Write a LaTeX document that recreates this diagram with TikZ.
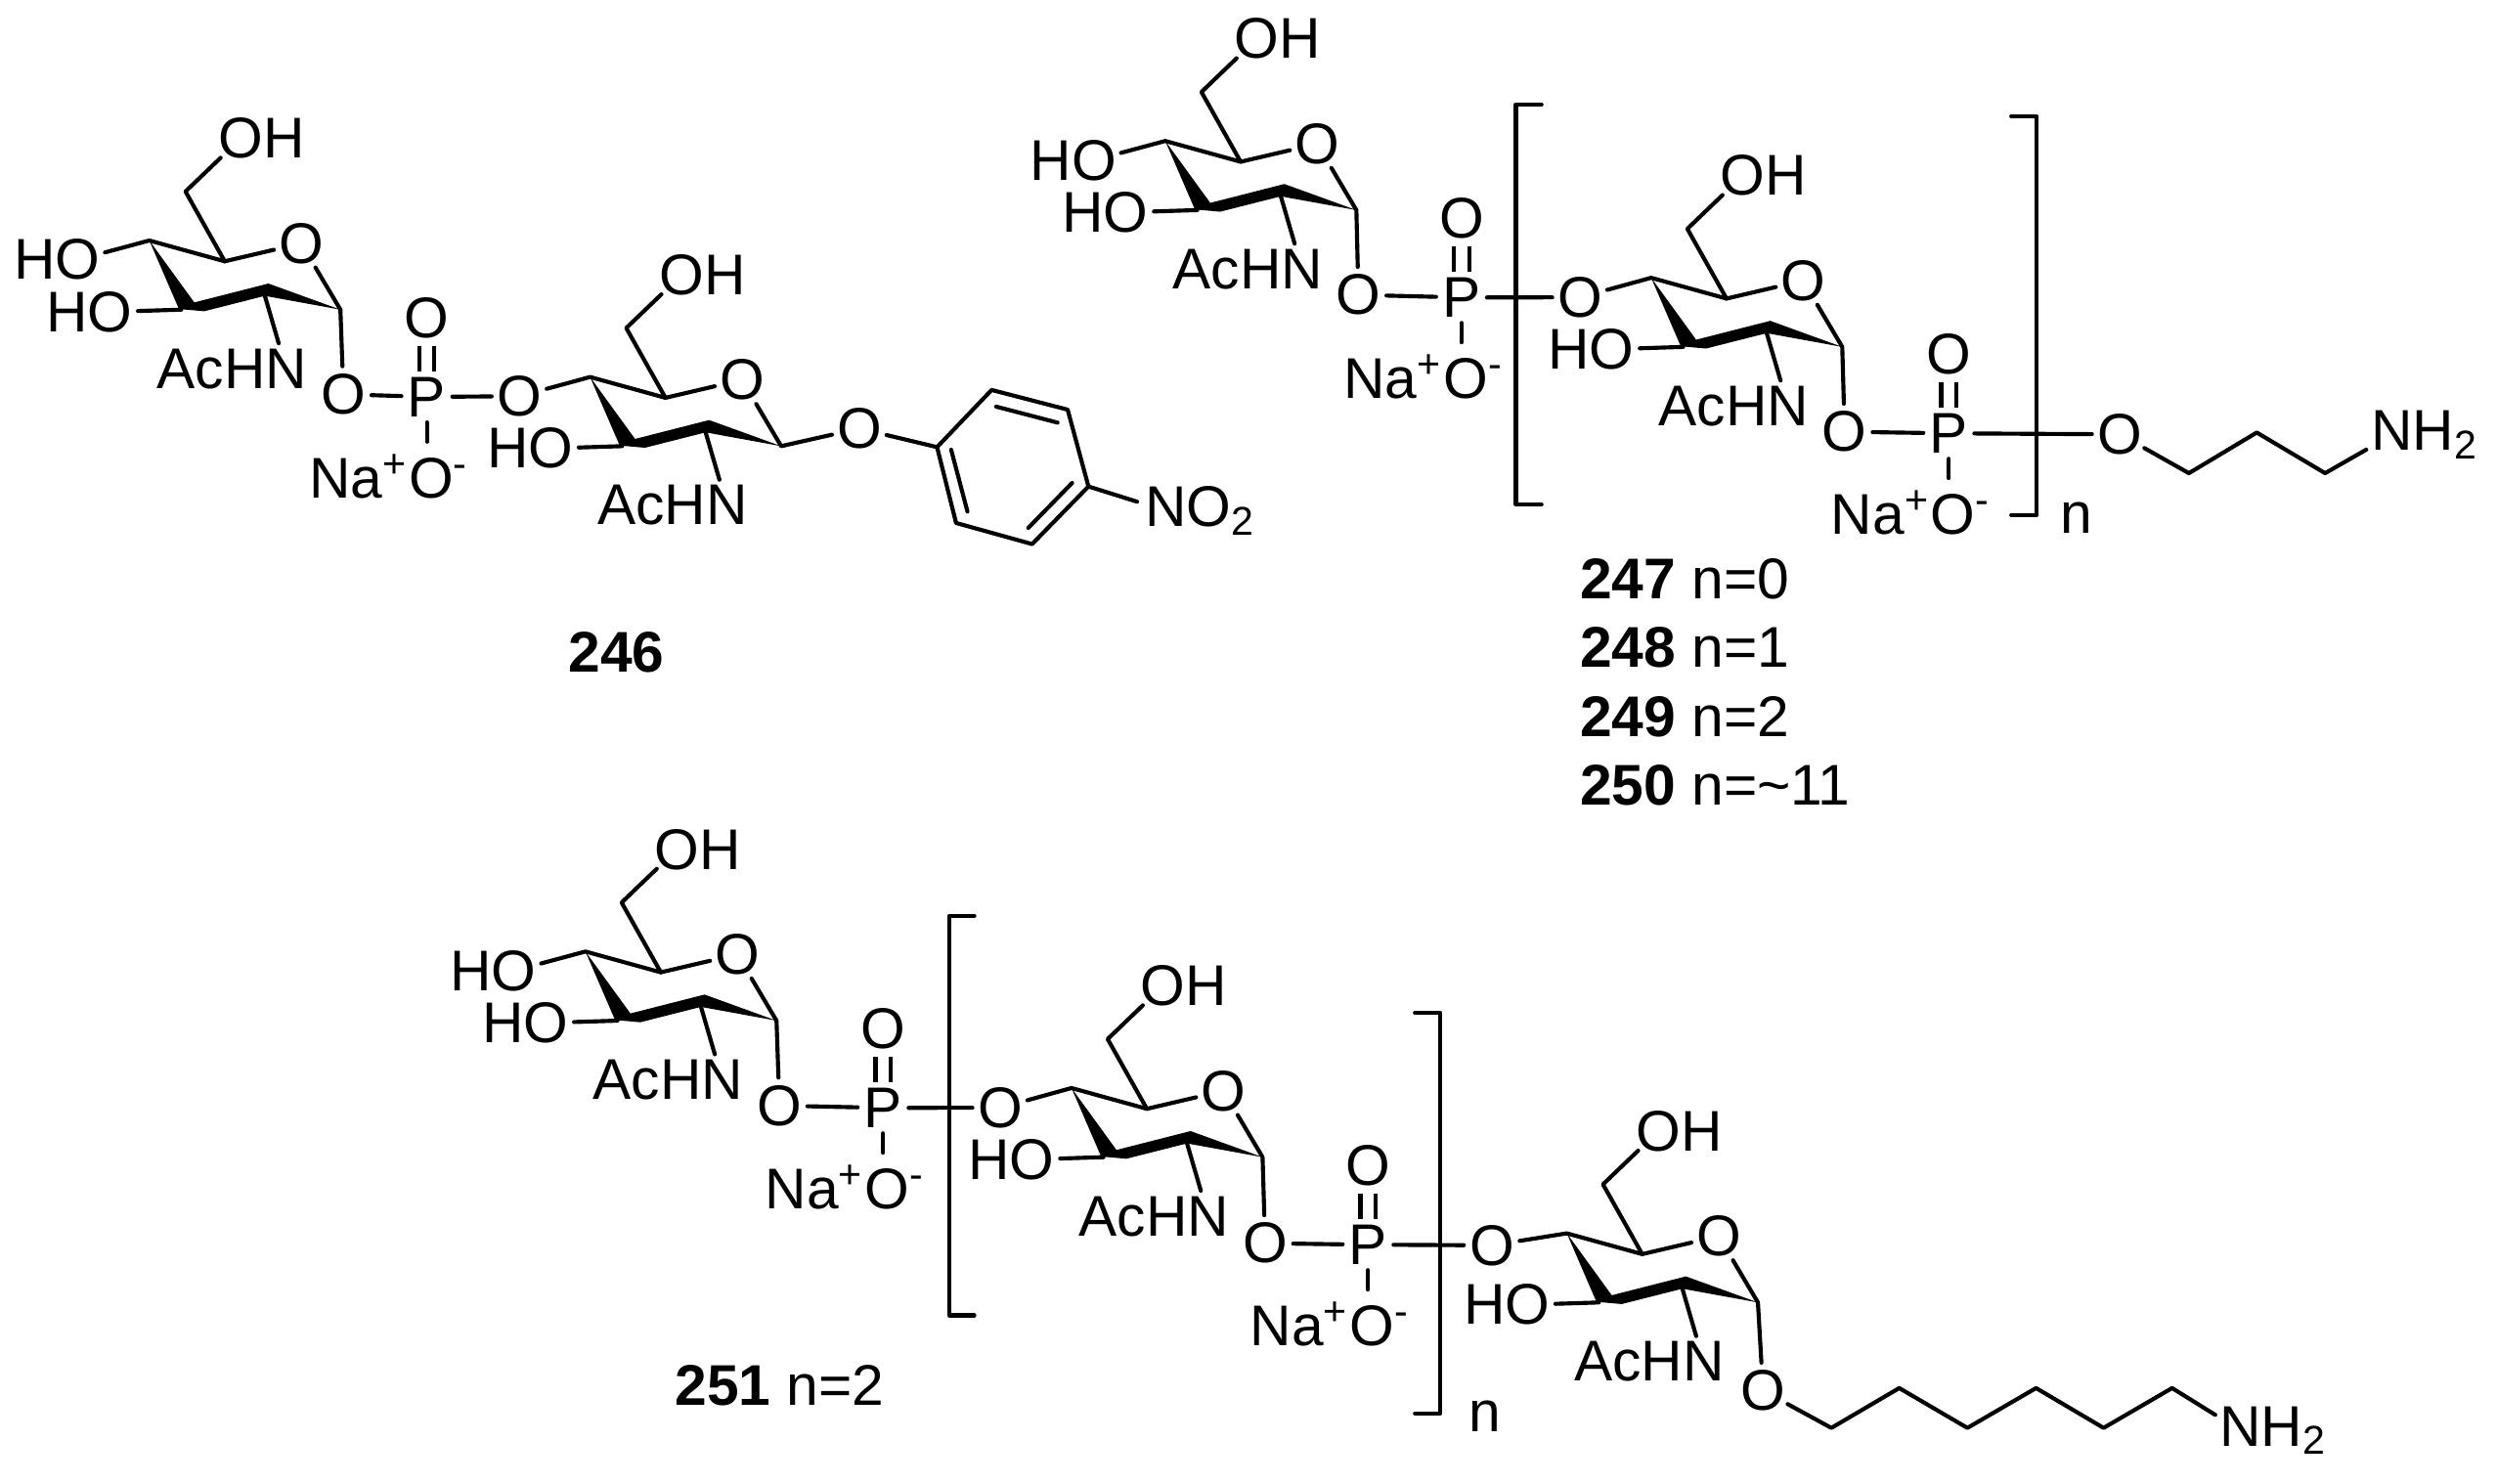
\documentclass[tikz,border=0pt]{standalone}
\usepackage{fontspec}
\setmainfont{Liberation Sans}
\tikzset{
	every node/.style={font=\fontsize{10.2}{12}\selectfont},
	bond/.style={line width=0.72pt,line cap=round,line join=round},
	dbond/.style={bond,line cap=butt,double,double distance=2pt},
	atom/.style={circle,inner sep=-0.4pt},
	label/.style={anchor=base west,inner sep=0pt}
}
\newcommand{\sugar}[6]{%
	\begin{scope}[shift={(#2,#3)},name prefix=#1-]
	\coordinate (c4) at (0,0);
	\coordinate (c5) at (47.1,13);
	\coordinate (c6) at (22.6,-30.6);
	\coordinate (c1) at (119.4,43.2);
	\coordinate (c2) at (72.2,34.6);
	\coordinate (c3) at (20,43.2);
	\node[atom] (oh) at (57.2,-63.8) {O\rlap{H}};
	\node[atom] (or) at (94.9,1.8) {O};
	\node[atom] (ho) at (-24.6,44.6) {\llap{H}O};
	\node[atom] (n) at (85.5,80.2) {\llap{AcH}N};
	\node[atom] (o4) at (#5) {#4};
	\node[atom] (o1) at (#6) {O};
	\fill (c4) -- (18.5,42.8) -- (34.3,44.2) -- (c2) -- (c1) -- (74.4,26.9) -- (28.1,38.7) -- cycle;
	\draw[bond] (o4) -- (c4) -- (c5) -- (or) -- (c1) -- (o1);
	\draw[bond] (c5) -- (c6) -- (oh);
	\draw[bond] (c3) -- (ho);
	\draw[bond] (c2) -- (n);
	\end{scope}%
}
\newcommand{\phos}[3]{%
	\begin{scope}[shift={(#2,#3)},name prefix=#1-]
	\node[atom] (p) at (0,0) {P};
	\node[atom] (od) at (0,-49.5) {O};
	\node[atom] (om) at (2.7,49.6) {\llap{Na\textsuperscript{+}}O\rlap{\textsuperscript{-}}};
	\coordinate (ob) at (0,28);
	\draw[dbond] (p) -- (od);
	\draw[bond] (p) -- (ob);
	\end{scope}%
}
\begin{document}
\begin{tikzpicture}[x=0.01cm,y=-0.01cm]
	\useasboundingbox (0,0) rectangle (1560.2,927.3);

	\sugar{a}{93.3}{150.3}{\llap{H}O}{-44.6,12}{121.3,96.1}
	\phos{pa}{266.7}{248}
	\sugar{b}{368.7}{235.6}{O}{-44,12}{168.2,32.2}
	\draw[bond] (a-o1) -- (pa-p) -- (b-o4);
	\coordinate (r1) at (585.5,279.4);
	\coordinate (r2) at (619.6,243.7);
	\coordinate (r3) at (667.1,256);
	\coordinate (r4) at (680.1,304);
	\coordinate (r5) at (644.9,340);
	\coordinate (r6) at (597.4,326.8);
	\node[atom] (no) at (728.3,319.1) {N\rlap{O\textsubscript{2}}};
	\draw[bond] (b-o1) -- (r1) -- (r2) -- (r3) -- (r4) -- (r5) -- (r6) -- (r1);
	\draw[bond] (r4) -- (no);
	\coordinate (i1) at (622.4,254.1);
	\coordinate (i2) at (660.8,264.1);
	\coordinate (i3) at (669.9,301.8);
	\coordinate (i4) at (642.5,329.9);
	\coordinate (i5) at (604.5,319.7);
	\coordinate (i6) at (594.3,281);
	\draw[bond] (i1) -- (i2);
	\draw[bond] (i3) -- (i4);
	\draw[bond] (i5) -- (i6);
	\node[label,font=\fontsize{10.2}{12}\selectfont\bfseries] (l246) at (354.5,419.8) {246};

	\sugar{c}{728.1}{88.1}{\llap{H}O}{-44.6,12}{120.7,96.2}
	\phos{pc}{913.2}{185.9}
	\sugar{d}{1031.7}{173.6}{O}{-44.3,12.2}{120.9,96.2}
	\phos{pd}{1217.7}{270.8}
	\draw[bond] (c-o1) -- (pc-p) -- (d-o4);
	\draw[bond] (963.2,65.2) -- (947.2,65.2) -- (947.2,315.2) -- (963.2,315.2);
	\draw[bond] (1256.7,72.7) -- (1272.7,72.7) -- (1272.7,321.7) -- (1256.7,321.7);
	\node[label] (n1) at (1286.5,333.5) {n};
	\node[atom] (to) at (1324.6,271.4) {O};
	\coordinate (t1) at (1367.7,295.7);
	\coordinate (t2) at (1410.1,270.3);
	\coordinate (t3) at (1452.8,295.7);
	\node[atom] (tn) at (1494.6,271.8) {N\rlap{H\textsubscript{2}}};
	\draw[bond] (d-o1) -- (pd-p) -- (to) -- (t1) -- (t2) -- (t3) -- (tn);
	\node[label] (l247) at (986.6,374) {\textbf{247} n=0};
	\node[label] (l248) at (986.6,417.2) {\textbf{248} n=1};
	\node[label] (l249) at (986.6,460.2) {\textbf{249} n=2};
	\node[label] (l250) at (986.6,503.3) {\textbf{250} n=\textasciitilde 11};

	\sugar{e}{365.8}{594.6}{\llap{H}O}{-44.6,12}{121.2,96.3}
	\phos{pe}{551.8}{692.3}
	\sugar{f}{669.5}{679.9}{O}{-44.4,12.3}{121,97}
	\phos{pf}{854.8}{777.8}
	\sugar{g}{979}{770.7}{O}{-46.8,7.5}{122.6,98.3}
	\draw[bond] (e-o1) -- (pe-p) -- (f-o4);
	\draw[bond] (f-o1) -- (pf-p) -- (g-o4);
	\draw[bond] (608.8,572.2) -- (593.2,572.2) -- (593.2,822) -- (608.8,822);
	\draw[bond] (884.1,632.9) -- (900,632.9) -- (900,883.3) -- (884.1,883.3);
	\node[label] (n2) at (917,894.9) {n};
	\coordinate (s1) at (1144.3,892.3);
	\coordinate (s2) at (1186.7,867.4);
	\coordinate (s3) at (1229.3,892.3);
	\coordinate (s4) at (1272.2,867.4);
	\coordinate (s5) at (1314.4,892.3);
	\coordinate (s6) at (1357.2,867.4);
	\node[atom] (sn) at (1399.9,893.9) {N\rlap{H\textsubscript{2}}};
	\draw[bond] (g-o1) -- (s1) -- (s2) -- (s3) -- (s4) -- (s5) -- (s6) -- (sn);
	\node[label] (l251) at (421.1,878) {\textbf{251} n=2};
\end{tikzpicture}
\end{document}
